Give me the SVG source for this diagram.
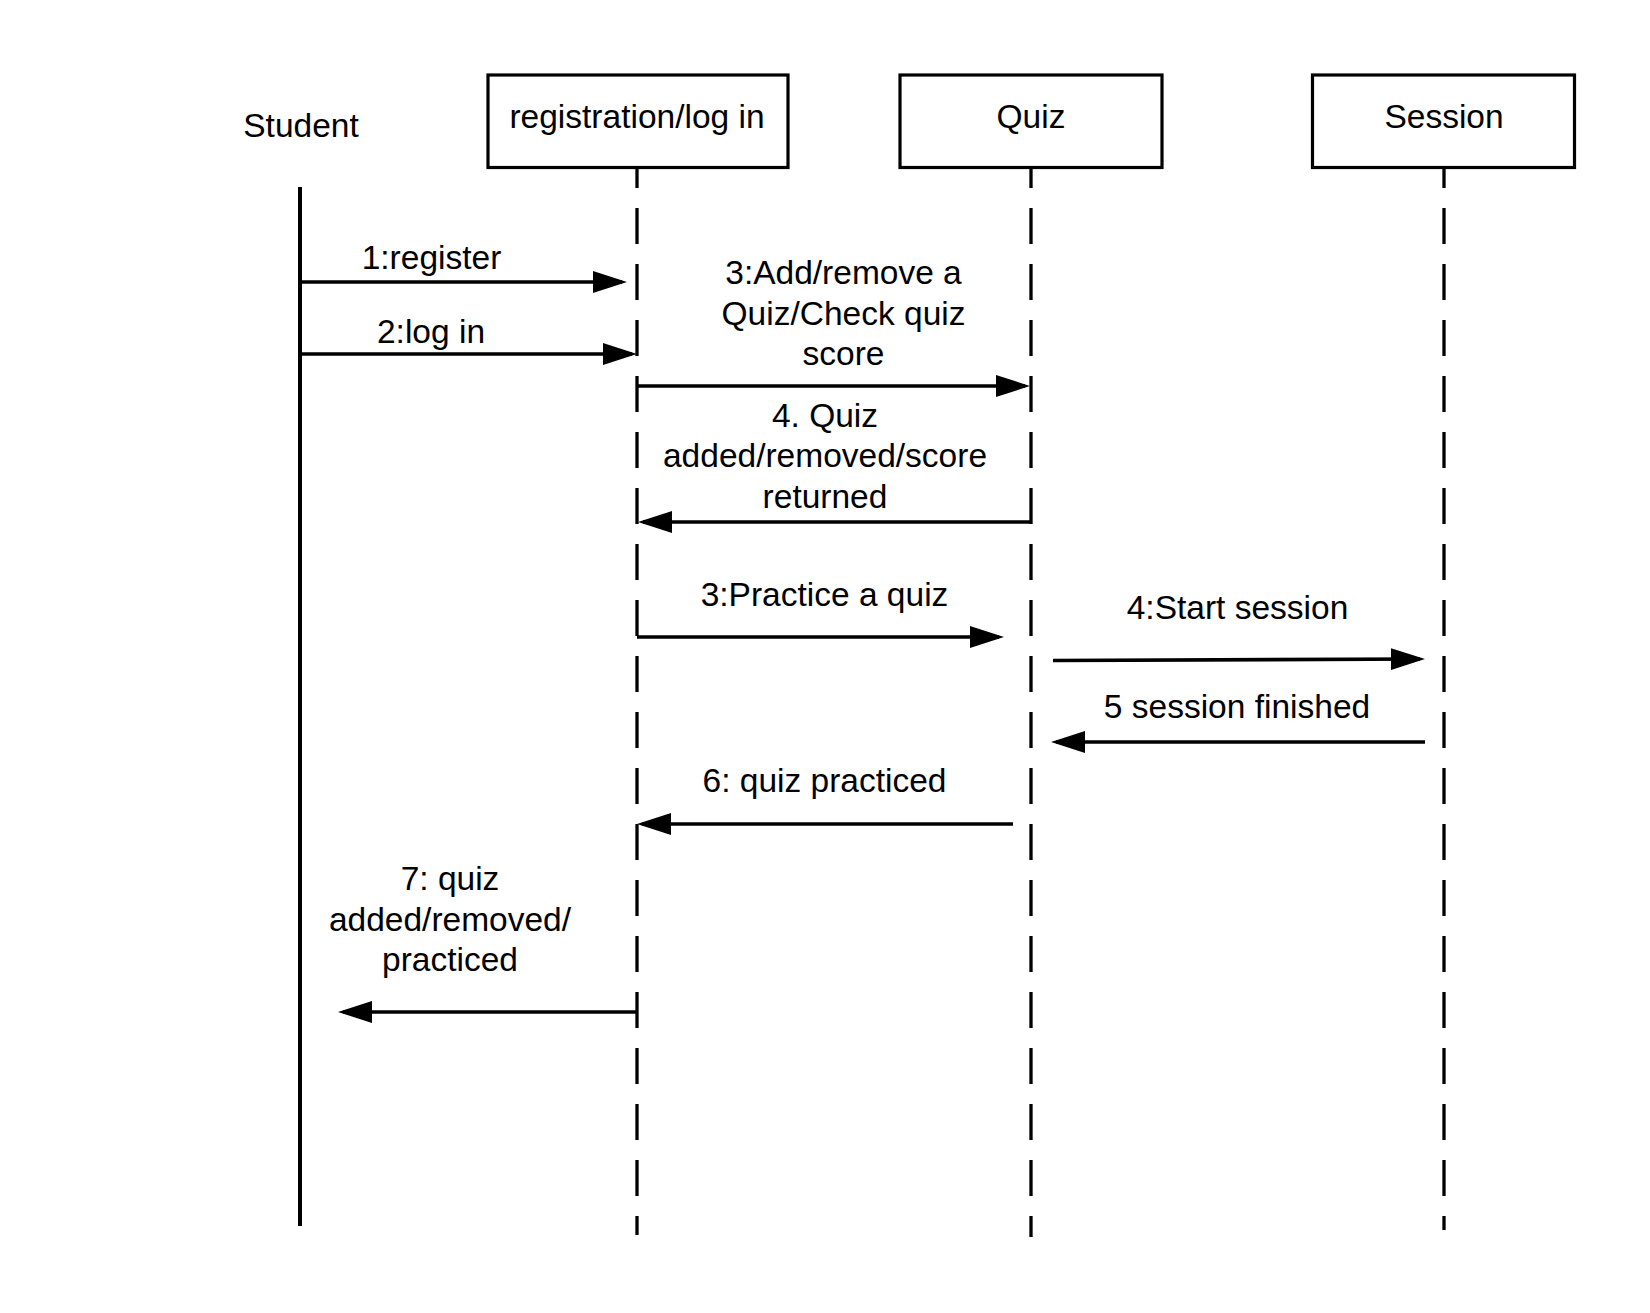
<svg xmlns="http://www.w3.org/2000/svg" width="1650" height="1313" viewBox="0 0 1650 1313">
<style>
  text { font-family: "Liberation Sans", Arial, sans-serif; font-size: 33.5px; fill: #000; }
  .c { text-anchor: middle; }
  .box { fill: #fff; stroke: #000; stroke-width: 3.2; }
  .life { stroke: #000; stroke-width: 3.3; stroke-dasharray: 36 20; stroke-dashoffset: 16; fill: none; }
  .msg { stroke: #000; stroke-width: 3.6; fill: none; marker-end: url(#ah); }
</style>
<defs>
  <marker id="ah" markerUnits="userSpaceOnUse" markerWidth="36" markerHeight="24" refX="29" refY="11" orient="auto" viewBox="0 0 36 24">
    <path d="M0,0 L34,11 L0,22 Z" fill="#000"/>
  </marker>
</defs>
<rect width="1650" height="1313" fill="#fff"/>

<g id="student">
  <text class="c" x="301" y="137">Student</text>
  <line x1="300" y1="187" x2="300" y2="1226" stroke="#000" stroke-width="4"/>
</g>
<g id="registration">
  <rect class="box" x="488" y="75" width="300" height="92.5"/>
  <text class="c" x="637" y="128">registration/log in</text>
  <line class="life" x1="637" y1="168" x2="637" y2="1235"/>
</g>
<g id="quiz">
  <rect class="box" x="900" y="75" width="262" height="92.5"/>
  <text class="c" x="1031" y="128">Quiz</text>
  <line class="life" x1="1031" y1="168" x2="1031" y2="1237"/>
</g>
<g id="session">
  <rect class="box" x="1312.5" y="75" width="262" height="92.5"/>
  <text class="c" x="1444" y="128">Session</text>
  <line class="life" x1="1444" y1="168" x2="1444" y2="1230"/>
</g>

<g id="connectors">
  <line class="msg" x1="300" y1="282" x2="622" y2="282"/>
  <line class="msg" x1="300" y1="354" x2="632" y2="354"/>
  <line class="msg" x1="637" y1="386" x2="1025" y2="386"/>
  <line class="msg" x1="1031" y1="522" x2="643" y2="522"/>
  <line class="msg" x1="637" y1="637" x2="999" y2="637"/>
  <line class="msg" x1="1053" y1="660.5" x2="1420" y2="659"/>
  <line class="msg" x1="1425" y1="742" x2="1056" y2="742"/>
  <line class="msg" x1="1013" y1="824" x2="642" y2="824"/>
  <line class="msg" x1="637" y1="1012" x2="343" y2="1012"/>
</g>

<g id="labels">
  <text class="c" x="431.5" y="269">1:register</text>
  <text class="c" x="431" y="343">2:log in</text>
  <text class="c" x="843.5" y="284">3:Add/remove a</text>
  <text class="c" x="843.5" y="325">Quiz/Check quiz</text>
  <text class="c" x="843.5" y="365">score</text>
  <text class="c" x="825" y="427">4. Quiz</text>
  <text class="c" x="825" y="467">added/removed/score</text>
  <text class="c" x="825" y="508">returned</text>
  <text class="c" x="824.5" y="606">3:Practice a quiz</text>
  <text class="c" x="1237.5" y="619">4:Start session</text>
  <text class="c" x="1237" y="718">5 session finished</text>
  <text class="c" x="824.5" y="792">6: quiz practiced</text>
  <text class="c" x="450" y="890">7: quiz</text>
  <text class="c" x="450" y="931">added/removed/</text>
  <text class="c" x="450" y="971">practiced</text>
</g>
</svg>
